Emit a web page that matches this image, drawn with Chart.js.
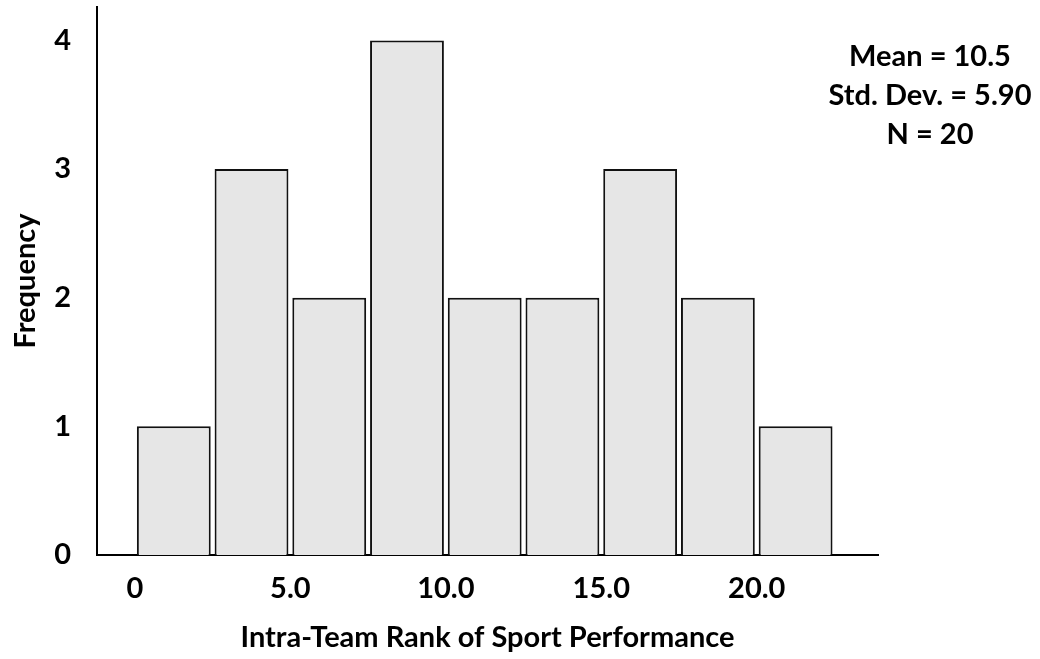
<!DOCTYPE html>
<html>
<head>
<meta charset="utf-8">
<script src="https://cdn.jsdelivr.net/npm/chart.js@4.4.0/dist/chart.umd.min.js"></script>
<style>
  html, body { margin: 0; padding: 0; background: #fff; }
</style>
</head>
<body>
<canvas id="hist-chart" width="1040" height="659"></canvas>
<script>
// histogram bins (lower edge) and counts
const binStarts = [0, 2.5, 5, 7.5, 10, 12.5, 15, 17.5, 20];
const binWidth = 2.5;
const frequencies = [1, 3, 2, 4, 2, 2, 3, 2, 1];

const xTickValues = [0, 5, 10, 15, 20];
const xTickLabels = ['0', '5.0', '10.0', '15.0', '20.0'];
const yTickValues = [0, 1, 2, 3, 4];

const statsLines = ['Mean = 10.5', 'Std. Dev. = 5.90', 'N = 20'];

const FONT = 'Lato';

const statsBox = {
    id: 'statsBox',
    afterDraw(chart) {
        const ctx = chart.ctx;
        ctx.save();
        ctx.font = 'bold 29px ' + FONT;
        ctx.fillStyle = '#000';
        ctx.textAlign = 'center';
        ctx.textBaseline = 'middle';
        statsLines.forEach(function(line, i) {
            ctx.fillText(line, 930, 57 + i * 39);
        });
        ctx.restore();
    }
};

var hist_ctx = document.getElementById('hist-chart').getContext('2d');
var myChart = new Chart(hist_ctx, {
    type: 'bar',
    data: {
        datasets: [{
            label: 'Frequency',
            data: binStarts.map((s, i) => ({ x: s + binWidth / 2, y: frequencies[i] })),
            backgroundColor: '#e6e6e6',
            borderColor: '#111',
            borderWidth: 2,
            barPercentage: 0.95,
            categoryPercentage: 1.0,
        }]
    },
    options: {
        responsive: false,
        animation: false,
        layout: {
            padding: { top: 7, right: 162, left: 0, bottom: 0 }
        },
        plugins: {
            legend: { display: false },
            title: { display: false },
            tooltip: { enabled: false }
        },
        scales: {
            x: {
                type: 'linear',
                offset: false,
                min: -1.22,
                max: 23.9,
                afterFit: function(scale) {
                    scale.height = 104;
                    scale.paddingLeft = 0;
                    scale.paddingRight = 0;
                },
                afterBuildTicks: function(scale) {
                    scale.ticks = xTickValues.map(v => ({ value: v }));
                },
                grid: { display: false, drawTicks: false },
                border: { display: true, color: '#000', width: 2 },
                ticks: {
                    padding: 16,
                    color: '#000',
                    font: { family: FONT, size: 29, weight: 'bold' },
                    callback: function(value) {
                        const i = xTickValues.indexOf(value);
                        return i >= 0 ? xTickLabels[i] : '';
                    }
                },
                title: {
                    display: true,
                    text: 'Intra-Team Rank of Sport Performance',
                    color: '#000',
                    font: { family: FONT, size: 29, weight: 'bold' },
                    padding: { top: 0, bottom: 4 }
                }
            },
            y: {
                min: 0,
                max: 4.26,
                afterFit: function(scale) {
                    scale.width = 97;
                    scale.paddingTop = 0;
                    scale.paddingBottom = 0;
                },
                afterBuildTicks: function(scale) {
                    scale.ticks = yTickValues.map(v => ({ value: v }));
                },
                grid: { display: false, drawTicks: false },
                border: { display: true, color: '#000', width: 2 },
                ticks: {
                    padding: 26,
                    color: '#000',
                    font: { family: FONT, size: 29, weight: 'bold' }
                },
                title: {
                    display: true,
                    text: 'Frequency',
                    color: '#000',
                    font: { family: FONT, size: 29, weight: 'bold' },
                    padding: { top: 8, bottom: 0 }
                }
            }
        }
    },
    plugins: [statsBox]
});
</script>
</body>
</html>
